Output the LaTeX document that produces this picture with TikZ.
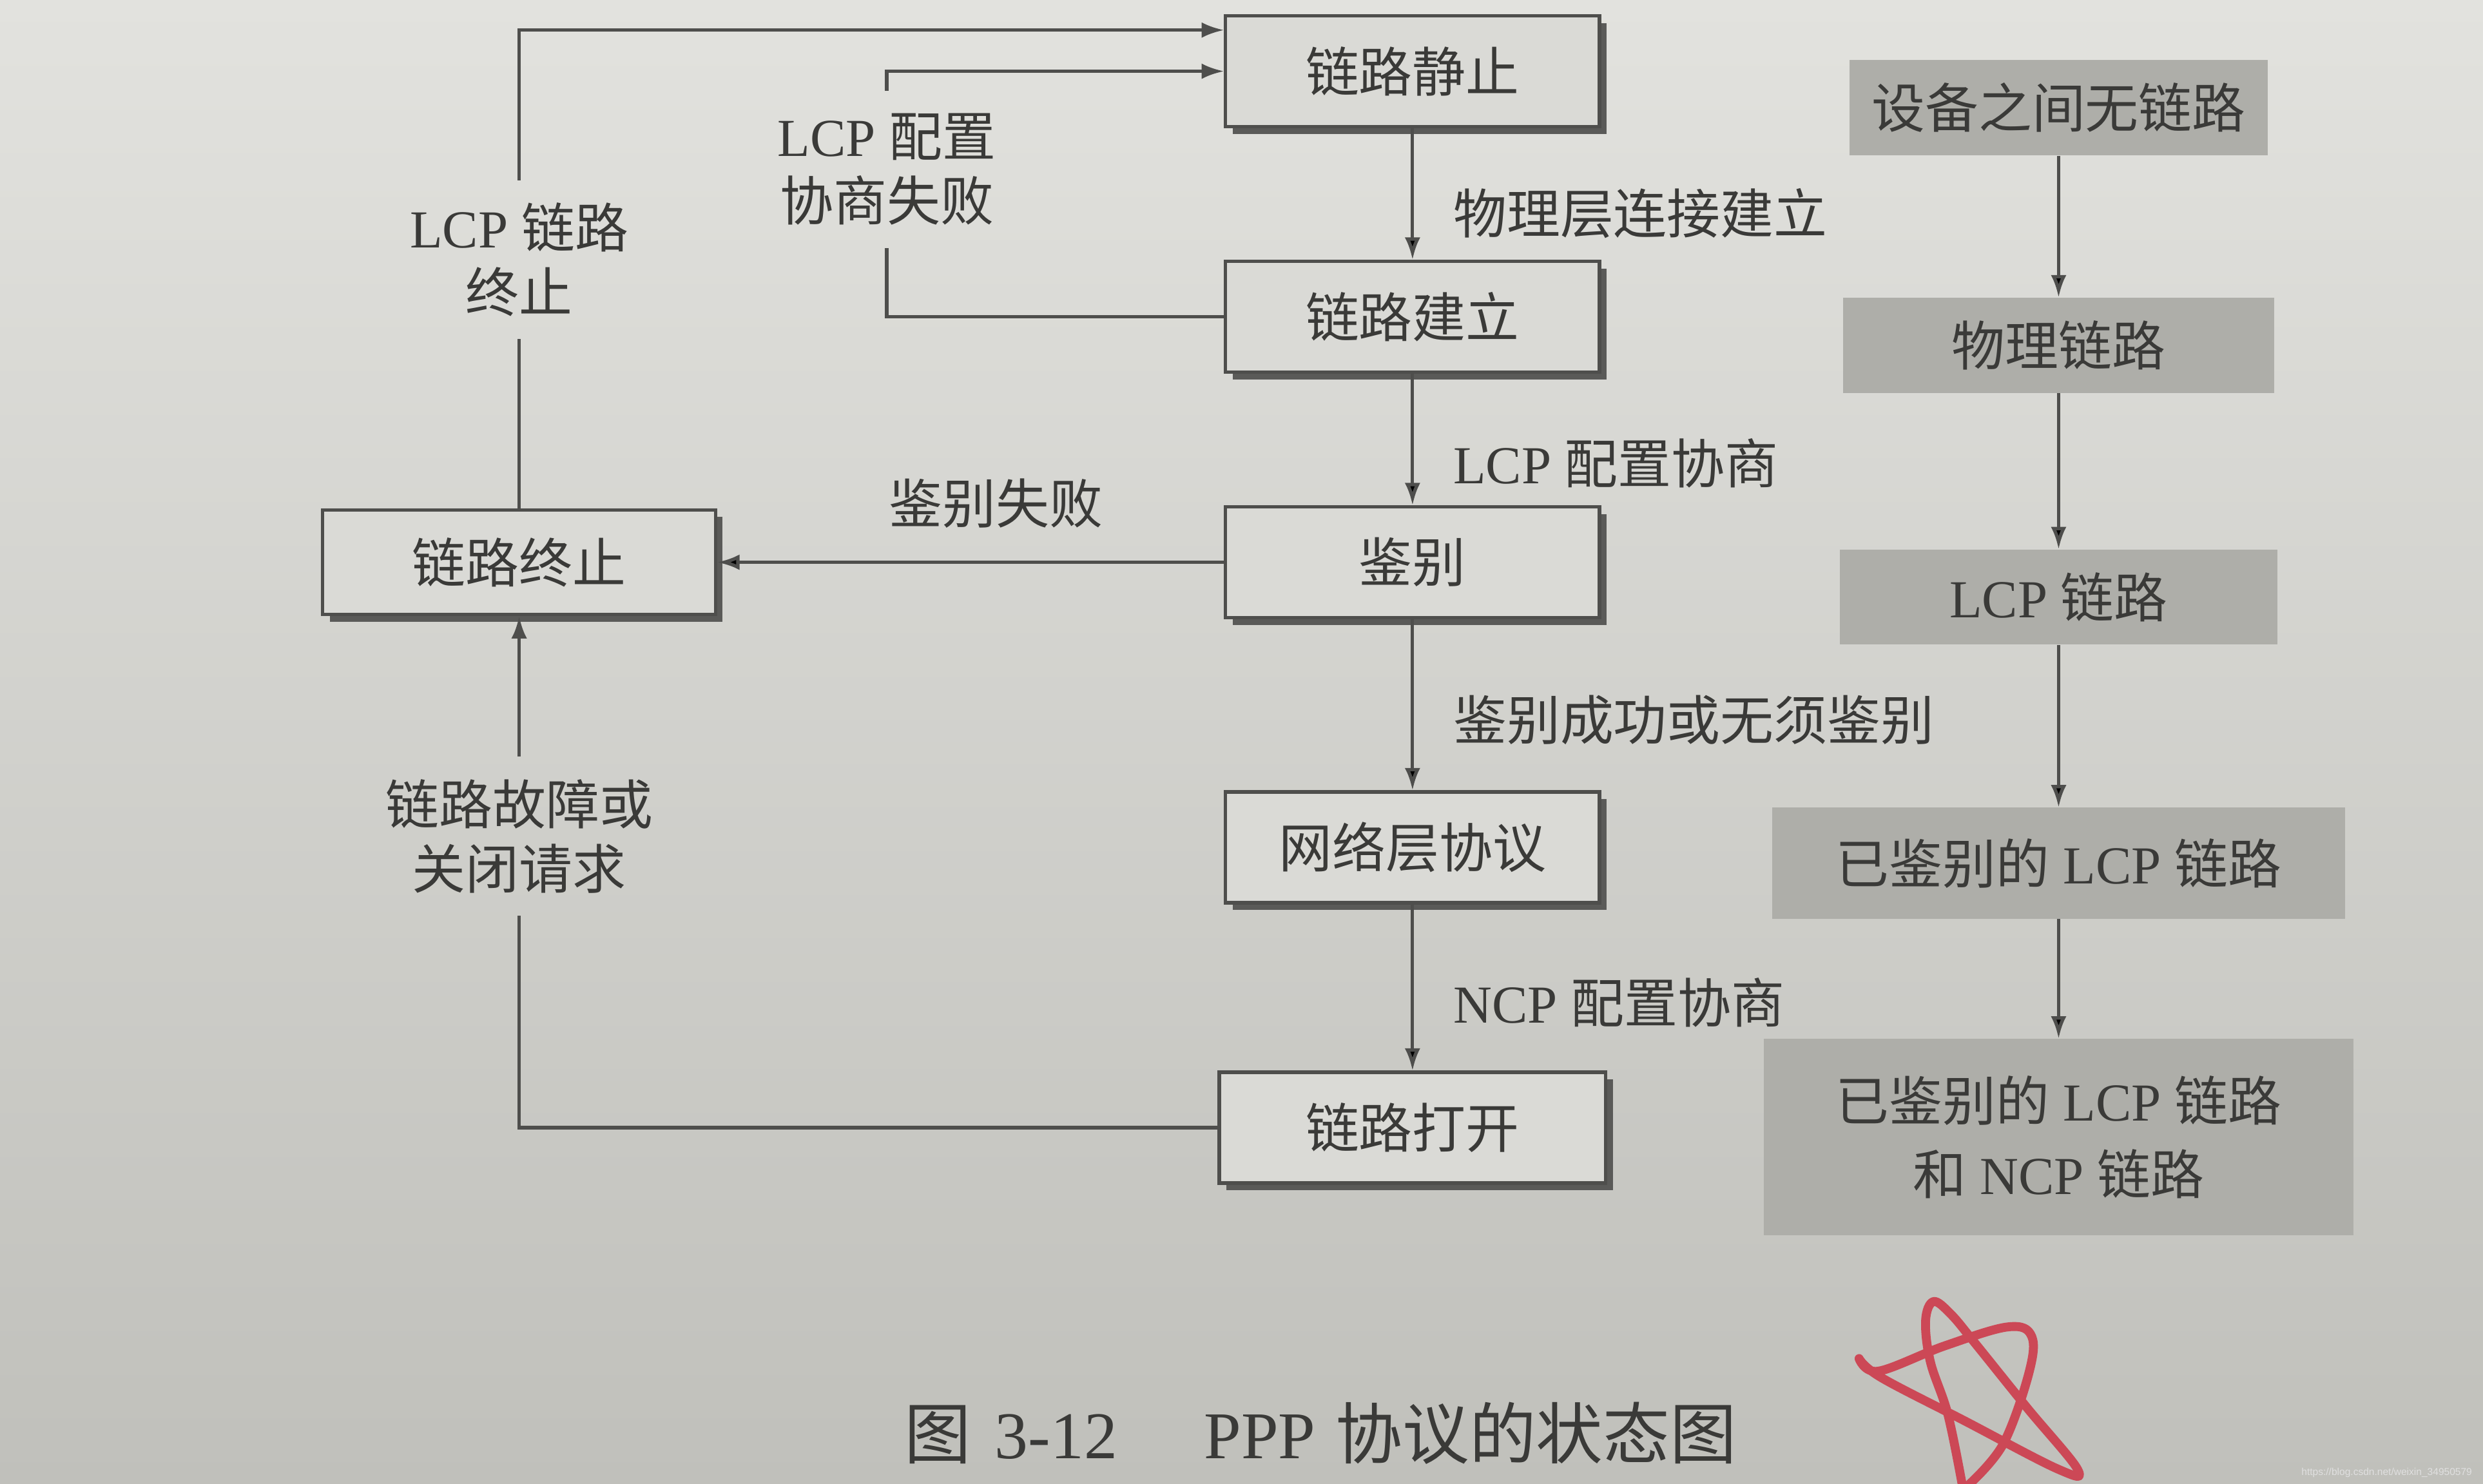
\documentclass[tikz,border=0pt]{standalone}
\usepackage{fontspec}
\setmainfont{Liberation Serif}
\newfontfamily\cjk{Noto Sans CJK SC}
\newfontfamily\wmfont{Liberation Sans}
\usepackage{tikz}
\usetikzlibrary{positioning, arrows.meta, shadows}
\definecolor{paperTop}{RGB}{226, 226, 222}
\definecolor{paperBottom}{RGB}{192, 192, 187}
\definecolor{boxFill}{RGB}{218, 218, 214}
\definecolor{inkColor}{RGB}{78, 78, 76}
\definecolor{textColor}{RGB}{58, 58, 56}
\definecolor{phaseFill}{RGB}{174, 174, 169}
\definecolor{shadowColor}{RGB}{90, 90, 88}
\definecolor{penRed}{RGB}{204, 72, 86}
\tikzset{
    ppp_state/.style={
        rectangle,
        draw=inkColor,
        line width=1.5pt,
        fill=boxFill,
        text=textColor,
        font=\cjk\fontsize{24}{29}\selectfont,
        minimum width=5.9cm,
        minimum height=1.75cm,
        drop shadow={shadow xshift=3.2pt, shadow yshift=-3.2pt, fill=shadowColor, opacity=1}
    },
    ppp_edge/.style={
        ->,
        >={Latex[length=10pt, width=7pt]},
        line width=1.5pt,
        draw=inkColor
    },
    ppp_label/.style={
        text=textColor,
        font=\fontsize{24}{29}\selectfont
    },
    loop_label/.style={
        ppp_label,
        align=center,
        inner sep=0.35cm
    },
    phase_box/.style={
        rectangle,
        fill=phaseFill,
        text=textColor,
        font=\fontsize{24}{29}\selectfont,
        minimum height=1.5cm
    },
    phase_edge/.style={
        ppp_edge
    }
}
\begin{document}
\begin{tikzpicture}[x=0.025cm, y=-0.025cm]
    \useasboundingbox (0,0) rectangle (1568,937);
    \shade[top color=paperTop, bottom color=paperBottom] (0,0) rectangle (1568,937);

    % PPP states
    \node[ppp_state] (quiet) at (892,45) {链路静止};
    \node[ppp_state, below of=quiet, node distance=3.875cm] (estab) {链路建立};
    \node[ppp_state, below of=estab, node distance=3.875cm] (auth) {鉴别};
    \node[ppp_state, below of=auth, node distance=4.5cm] (netw) {网络层协议};
    \node[ppp_state, below of=netw, node distance=4.425cm, minimum width=6.1cm] (open) {链路打开};
    \node[ppp_state, left of=auth, node distance=14.1cm, minimum width=6.2cm, minimum height=1.65cm] (term) {链路终止};

    \node[loop_label] (fail) at (560,107) {LCP {\cjk 配置}\\{\cjk 协商失败}};
    \node[loop_label, above of=term, node distance=4.775cm] (lcpend) {LCP {\cjk 链路}\\{\cjk 终止}};
    \node[loop_label, below of=term, node distance=4.325cm] (fault) {{\cjk 链路故障或}\\{\cjk 关闭请求}};

    \draw[ppp_edge]
        (quiet) edge node[ppp_label, right=0.5cm, pos=0.65] {{\cjk 物理层连接建立}} (estab)
        (estab) edge node[ppp_label, right=0.5cm, pos=0.68] {LCP {\cjk 配置协商}} (auth)
        (auth) edge node[ppp_label, right=0.5cm, pos=0.59] {{\cjk 鉴别成功或无须鉴别}} (netw)
        (netw) edge node[ppp_label, right=0.5cm, pos=0.59] {NCP {\cjk 配置协商}} (open)
        (auth) edge node[ppp_label, above=0.4cm, pos=0.45] {{\cjk 鉴别失败}} (term);

    \coordinate (q_top) at (quiet.west |- 0,19);
    \draw[ppp_edge, -] (estab.west) -| (fail.south);
    \draw[ppp_edge] (fail.north) |- (quiet.west);
    \draw[ppp_edge, -] (term.north) -- (lcpend.south);
    \draw[ppp_edge] (lcpend.north) |- (q_top);
    \draw[ppp_edge, -] (open.west) -| (fault.south);
    \draw[ppp_edge] (fault.north) -- (term.south);

    % link phases
    \node[phase_box, minimum width=6.6cm] (none) at (1300,68) {{\cjk 设备之间无链路}};
    \node[phase_box, below of=none, node distance=3.75cm, minimum width=6.8cm] (phys) {{\cjk 物理链路}};
    \node[phase_box, below of=phys, node distance=3.975cm, minimum width=6.9cm] (lcp) {LCP {\cjk 链路}};
    \node[phase_box, below of=lcp, node distance=4.2cm, minimum width=9.05cm, minimum height=1.75cm] (lcpauth) {{\cjk 已鉴别的} LCP {\cjk 链路}};
    \node[phase_box, below of=lcpauth, node distance=4.325cm, minimum width=9.3cm, minimum height=3.1cm, align=center, font=\fontsize{24}{33}\selectfont] (lcpncp) {{\cjk 已鉴别的} LCP {\cjk 链路}\\{\cjk 和} NCP {\cjk 链路}};

    \draw[phase_edge]
        (none) edge (phys)
        (phys) edge (lcp)
        (lcp) edge (lcpauth)
        (lcpauth) edge (lcpncp);

    \node[ppp_label, font=\fontsize{30}{36}\selectfont] (caption) at (834,905) {{\cjk 图}\hspace{0.35em}3-12\hspace{1.3em}PPP\hspace{0.3em}{\cjk 协议的状态图}};
    \node[font=\wmfont\fontsize{4.5}{5}\selectfont, text=white!88!black, anchor=east] (wm) at (1566,930) {https://blog.csdn.net/weixin\_34950579};

    % pen mark
    \draw[penRed, line width=4pt, line cap=round, line join=round]
        plot[smooth, tension=0.6] coordinates {(1239,937) (1230,893) (1219,860) (1216,834) (1221,822) (1232,830) (1247,848) (1280,889) (1312,928) (1300,928) (1240,897) (1188,870) (1174,858) (1186,866) (1228,850) (1268,838) (1283,844) (1281,868) (1265,912) (1244,937)};
\end{tikzpicture}
\end{document}
